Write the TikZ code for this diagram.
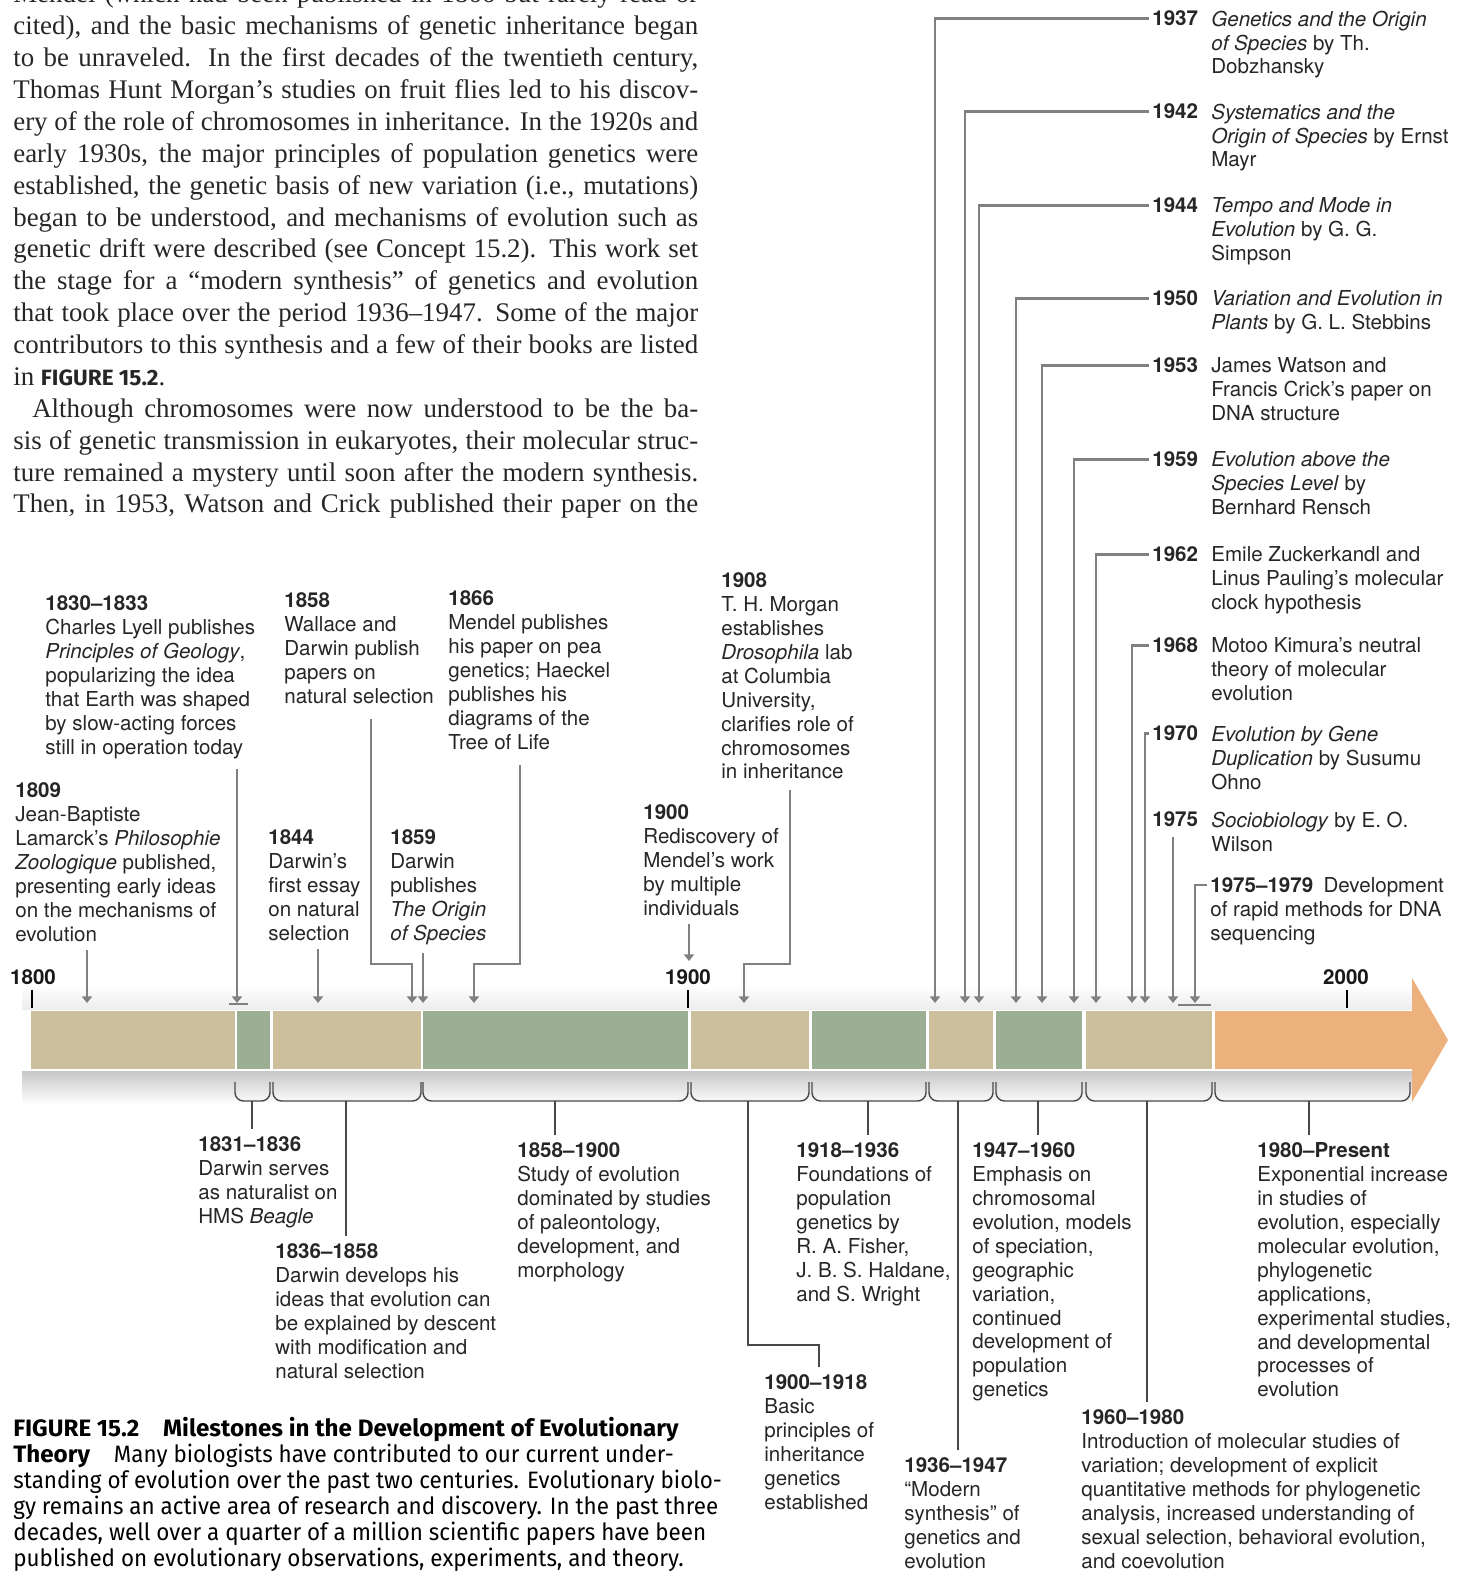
\documentclass[tikz,border=0pt]{standalone}
\usepackage{fontspec}
\setmainfont{Liberation Serif}
\setsansfont{TeX Gyre Heros}
\newfontfamily\capfont[FakeStretch=0.945, BoldFeatures={FakeStretch=1.02}]{Fira Sans}
\usetikzlibrary{arrows.meta}
\definecolor{eratan}{RGB}{204,191,156}
\definecolor{eragreen}{RGB}{156,174,148}
\definecolor{eraorange}{RGB}{237,177,125}
\definecolor{pointergray}{RGB}{128,128,128}
\definecolor{bracegray}{RGB}{72,72,72}
\newcommand\bodyline[1]{\hbox to\linewidth{#1}}
\newcommand\lastline[1]{\hbox to\linewidth{#1\hfil}}

\begin{document}
\begin{tikzpicture}[
    x=0.02cm, y=-0.02cm,
    milestone/.style={
      anchor=north west,
      inner sep=0pt,
      yshift=-0.05cm,
      align=left,
      text=black!85,
      font=\sffamily\fontsize{11.7}{13.6}\selectfont
    },
    period/.style={milestone},
    yearhead/.style={milestone, font=\sffamily\bfseries\fontsize{11.7}{13.6}\selectfont},
    axisyear/.style={inner sep=0pt, text=black!90, font=\sffamily\bfseries\fontsize{11.7}{13.6}\selectfont},
    pointer/.style={draw=pointergray, line width=1.5pt, -{Triangle[width=5.8pt,length=3.8pt]}},
    rangebar/.style={draw=pointergray, line width=1.6pt},
    brace/.style={draw=bracegray, line width=0.8pt, rounded corners=0.17cm},
    stem/.style={draw=bracegray, line width=0.8pt, shorten >=0.16cm},
    tick/.style={draw=black, line width=1.1pt}
  ]
    \useasboundingbox (0,0) rectangle (1472,1571);
    \clip (0,0) rectangle (1472,1571);

    % running text of the page
    \node[anchor=base west, inner sep=0pt, text=black!85] (body) at (13,3) {\parbox[t]{13.7cm}{\fontsize{15.3}{18.14}\selectfont
      \bodyline{Mendel (which had been published in 1866 but rarely read or}
      \bodyline{cited), and the basic mechanisms of genetic inheritance began}
      \bodyline{to be unraveled. In the first decades of the twentieth century,}
      \bodyline{Thomas Hunt Morgan’s studies on fruit flies led to his discov-}
      \bodyline{ery of the role of chromosomes in inheritance. In the 1920s and}
      \bodyline{early 1930s, the major principles of population genetics were}
      \bodyline{established, the genetic basis of new variation (i.e., mutations)}
      \bodyline{began to be understood, and mechanisms of evolution such as}
      \bodyline{genetic drift were described (see Concept 15.2). This work set}
      \bodyline{the stage for a “modern synthesis” of genetics and evolution}
      \bodyline{that took place over the period 1936–1947. Some of the major}
      \bodyline{contributors to this synthesis and a few of their books are listed}
      \lastline{in {\capfont\bfseries\fontsize{12.6}{14}\selectfont FIGURE 15.2}.}
      \bodyline{\hspace*{10.8pt}Although chromosomes were now understood to be the ba-}
      \bodyline{sis of genetic transmission in eukaryotes, their molecular struc-}
      \bodyline{ture remained a mystery until soon after the modern synthesis.}
      \bodyline{Then, in 1953, Watson and Crick published their paper on the}}};

    % shadow round the time bar
    \shade[top color=white, bottom color=black!7] (22,985) rectangle (1412,1009);
    \shade[top color=black!22, bottom color=white] (22,1071) rectangle (1412,1104);

    % time bar
    \foreach \a/\b/\c in {31/235/eratan, 237/270/eragreen, 273/421/eratan, 423/688/eragreen,
        691/809/eratan, 812/926/eragreen, 929/993/eratan, 996/1082/eragreen, 1086/1212/eratan}
      \fill[\c] (\a,1011) rectangle (\b,1069);
    \fill[eraorange] (1215,1011) -- (1412,1011) -- (1412,978) -- (1448,1040)
      -- (1412,1102) -- (1412,1069) -- (1215,1069) -- cycle;

    \node[axisyear] (n1800) at (33,977) {1800};
    \node[axisyear] (n1900) at (688,977) {1900};
    \node[axisyear] (n2000) at (1346,977) {2000};
    \draw[tick] (32,990) -- (32,1008);
    \draw[tick] (688,990) -- (688,1008);
    \draw[tick] (1347,990) -- (1347,1008);

    % braces under the eras
    \foreach \a/\b/\m/\n in {235/270/252/2, 273/421/346/3, 423/688/555/4, 691/809/748/5,
        812/926/868/6, 929/993/958/7, 996/1082/1038/8, 1086/1212/1147/9, 1215/1410/1309/10} {
      \draw[brace] (\a,1082) -- (\a,1101) -- (\b,1101) -- (\b,1082);
      \coordinate (br\n) at (\m,1101);
    }

    % events above the bar
    \node[milestone] (d1809) at (15,780) {\textbf{1809}\\Jean-Baptiste\\Lamarck’s \textit{Philosophie}\\\textit{Zoologique} published,\\presenting early ideas\\on the mechanisms of\\evolution};
    \node[milestone] (d1830) at (45,593) {\textbf{1830–1833}\\Charles Lyell publishes\\\textit{Principles of Geology},\\popularizing the idea\\that Earth was shaped\\by slow-acting forces\\still in operation today};
    \node[milestone] (d1844) at (268,827) {\textbf{1844}\\Darwin’s\\first essay\\on natural\\selection};
    \node[milestone] (d1858) at (284,590) {\textbf{1858}\\Wallace and\\Darwin publish\\papers on\\natural selection};
    \node[milestone] (d1859) at (390,827) {\textbf{1859}\\Darwin\\publishes\\\textit{The Origin}\\\textit{of Species}};
    \node[milestone] (d1866) at (448,588) {\textbf{1866}\\Mendel publishes\\his paper on pea\\genetics; Haeckel\\publishes his\\diagrams of the\\Tree of Life};
    \node[milestone] (d1900) at (643,802) {\textbf{1900}\\Rediscovery of\\Mendel’s work\\by multiple\\individuals};
    \node[milestone] (d1908) at (721,570) {\textbf{1908}\\T. H. Morgan\\establishes\\\textit{Drosophila} lab\\at Columbia\\University,\\clarifies role of\\chromosomes\\in inheritance};

    \coordinate (y1809) at (87,1003);
    \coordinate (y1830) at (237,1003);
    \coordinate (y1844) at (318,1003);
    \coordinate (k1858) at (371,964);
    \coordinate (y1858) at (412,1003);
    \coordinate (y1859) at (423,1003);
    \coordinate (k1866) at (520,964);
    \coordinate (y1866) at (474,1003);
    \coordinate (y1900) at (689,961);
    \coordinate (k1908) at (790,964);
    \coordinate (y1908) at (744,1003);

    \draw[pointer, shorten <=0.16cm] (y1809 |- d1809.south) -- (y1809);
    \draw[pointer, shorten <=0.2cm] (y1830 |- d1830.south) -- (y1830);
    \draw[rangebar] (229,1004) -- (248,1004);
    \draw[pointer, shorten <=0.16cm] (y1844 |- d1844.south) -- (y1844);
    \draw[pointer, shorten <=0.3cm] (k1858 |- d1858.south) -- (k1858) -| (y1858);
    \draw[pointer, shorten <=0.16cm] (y1859 |- d1859.south) -- (y1859);
    \draw[pointer, shorten <=0.3cm] (k1866 |- d1866.south) -- (k1866) -| (y1866);
    \draw[pointer, shorten <=0.16cm] (y1900 |- d1900.south) -- (y1900);
    \draw[pointer, shorten <=0.2cm] (k1908 |- d1908.south) -- (k1908) -| (y1908);

    % books and papers of the twentieth century
    \node[yearhead] (yr1937) at (1152,8) {1937};
    \node[milestone] (b1937) at (1211,8) {\textit{Genetics and the Origin}\\\textit{of Species} by Th.\\Dobzhansky};
    \node[yearhead] (yr1942) at (1152,101) {1942};
    \node[milestone] (b1942) at (1211,101) {\textit{Systematics and the}\\\textit{Origin of Species} by Ernst\\Mayr};
    \node[yearhead] (yr1944) at (1152,195) {1944};
    \node[milestone] (b1944) at (1211,195) {\textit{Tempo and Mode in}\\\textit{Evolution} by G. G.\\Simpson};
    \node[yearhead] (yr1950) at (1152,288) {1950};
    \node[milestone] (b1950) at (1211,288) {\textit{Variation and Evolution in}\\\textit{Plants} by G. L. Stebbins};
    \node[yearhead] (yr1953) at (1152,355) {1953};
    \node[milestone] (b1953) at (1211,355) {James Watson and\\Francis Crick’s paper on\\DNA structure};
    \node[yearhead] (yr1959) at (1152,449) {1959};
    \node[milestone] (b1959) at (1211,449) {\textit{Evolution above the}\\\textit{Species Level} by\\Bernhard Rensch};
    \node[yearhead] (yr1962) at (1152,544) {1962};
    \node[milestone] (b1962) at (1211,544) {Emile Zuckerkandl and\\Linus Pauling’s molecular\\clock hypothesis};
    \node[yearhead] (yr1968) at (1152,635) {1968};
    \node[milestone] (b1968) at (1211,635) {Motoo Kimura’s neutral\\theory of molecular\\evolution};
    \node[yearhead] (yr1970) at (1152,723) {1970};
    \node[milestone] (b1970) at (1211,723) {\textit{Evolution by Gene}\\\textit{Duplication} by Susumu\\Ohno};
    \node[yearhead] (yr1975) at (1152,809) {1975};
    \node[milestone] (b1975) at (1211,809) {\textit{Sociobiology} by E. O.\\Wilson};
    \node[milestone] (d7579) at (1210,875) {\textbf{1975–1979}\enspace Development\\of rapid methods for DNA\\sequencing};

    \coordinate (y1937) at (935,1003);
    \coordinate (y1942) at (965,1003);
    \coordinate (y1944) at (979,1003);
    \coordinate (y1950) at (1016,1003);
    \coordinate (y1953) at (1042,1003);
    \coordinate (y1959) at (1074,1003);
    \coordinate (y1962) at (1096,1003);
    \coordinate (y1968) at (1132,1003);
    \coordinate (y1970) at (1145,1003);
    \coordinate (y1975) at (1173,1003);
    \coordinate (k7579) at (1195,885);
    \coordinate (y7579) at (1195,1003);

    \draw[pointer, shorten <=0.06cm] (yr1937.west) -| (y1937);
    \draw[pointer, shorten <=0.06cm] (yr1942.west) -| (y1942);
    \draw[pointer, shorten <=0.06cm] (yr1944.west) -| (y1944);
    \draw[pointer, shorten <=0.06cm] (yr1950.west) -| (y1950);
    \draw[pointer, shorten <=0.06cm] (yr1953.west) -| (y1953);
    \draw[pointer, shorten <=0.06cm] (yr1959.west) -| (y1959);
    \draw[pointer, shorten <=0.06cm] (yr1962.west) -| (y1962);
    \draw[pointer, shorten <=0.06cm] (yr1968.west) -| (y1968);
    \draw[pointer, shorten <=0.06cm] (yr1970.west) -| (y1970);
    \draw[pointer, shorten <=0.2cm] (y1975 |- yr1975.south) -- (y1975);
    \draw[pointer, shorten <=0.06cm] (k7579 -| d7579.west) -- (k7579) -- (y7579);
    \draw[rangebar] (1178,1005) -- (1211,1005);

    % periods below the bar
    \node[period] (d1831) at (198,1134) {\textbf{1831–1836}\\Darwin serves\\as naturalist on\\HMS \textit{Beagle}};
    \node[period] (d1836) at (275,1241) {\textbf{1836–1858}\\Darwin develops his\\ideas that evolution can\\be explained by descent\\with modification and\\natural selection};
    \node[period] (d1858r) at (517,1140) {\textbf{1858–1900}\\Study of evolution\\dominated by studies\\of paleontology,\\development, and\\morphology};
    \node[period] (d1900r) at (764,1372) {\textbf{1900–1918}\\Basic\\principles of\\inheritance\\genetics\\established};
    \node[period] (d1918) at (796,1140) {\textbf{1918–1936}\\Foundations of\\population\\genetics by\\R. A. Fisher,\\J. B. S. Haldane,\\and S. Wright};
    \node[period] (d1936) at (904,1455) {\textbf{1936–1947}\\“Modern\\synthesis” of\\genetics and\\evolution};
    \node[period] (d1947) at (972,1140) {\textbf{1947–1960}\\Emphasis on\\chromosomal\\evolution, models\\of speciation,\\geographic\\variation,\\continued\\development of\\population\\genetics};
    \node[period] (d1960) at (1081,1407) {\textbf{1960–1980}\\Introduction of molecular studies of\\variation; development of explicit\\quantitative methods for phylogenetic\\analysis, increased understanding of\\sexual selection, behavioral evolution,\\and coevolution};
    \node[period] (d1980) at (1257,1140) {\textbf{1980–Present}\\Exponential increase\\in studies of\\evolution, especially\\molecular evolution,\\phylogenetic\\applications,\\experimental studies,\\and developmental\\processes of\\evolution};

    \coordinate (k1900) at (748,1345);

    \draw[stem] (br2) -- (br2 |- d1831.north);
    \draw[stem] (br3) -- (br3 |- d1836.north);
    \draw[stem] (br4) -- (br4 |- d1858r.north);
    \draw[stem] (br5) -- (k1900) -| (d1900r.north);
    \draw[stem] (br6) -- (br6 |- d1918.north);
    \draw[stem] (br7) -- (br7 |- d1936.north);
    \draw[stem] (br8) -- (br8 |- d1947.north);
    \draw[stem] (br9) -- (br9 |- d1960.north);
    \draw[stem] (br10) -- (br10 |- d1980.north);

    % figure caption
    \node[anchor=base west, inner sep=0pt] (caption) at (13,1436) {\parbox[t]{17cm}{\capfont\fontsize{13.5}{14.86}\selectfont
      \textbf{FIGURE 15.2\quad Milestones in the Development of Evolutionary}\\
      \textbf{Theory}\quad Many biologists have contributed to our current under-\\
      standing of evolution over the past two centuries. Evolutionary biolo-\\
      gy remains an active area of research and discovery. In the past three\\
      decades, well over a quarter of a million scientific papers have been\\
      published on evolutionary observations, experiments, and theory.}};
  \end{tikzpicture}
\end{document}
